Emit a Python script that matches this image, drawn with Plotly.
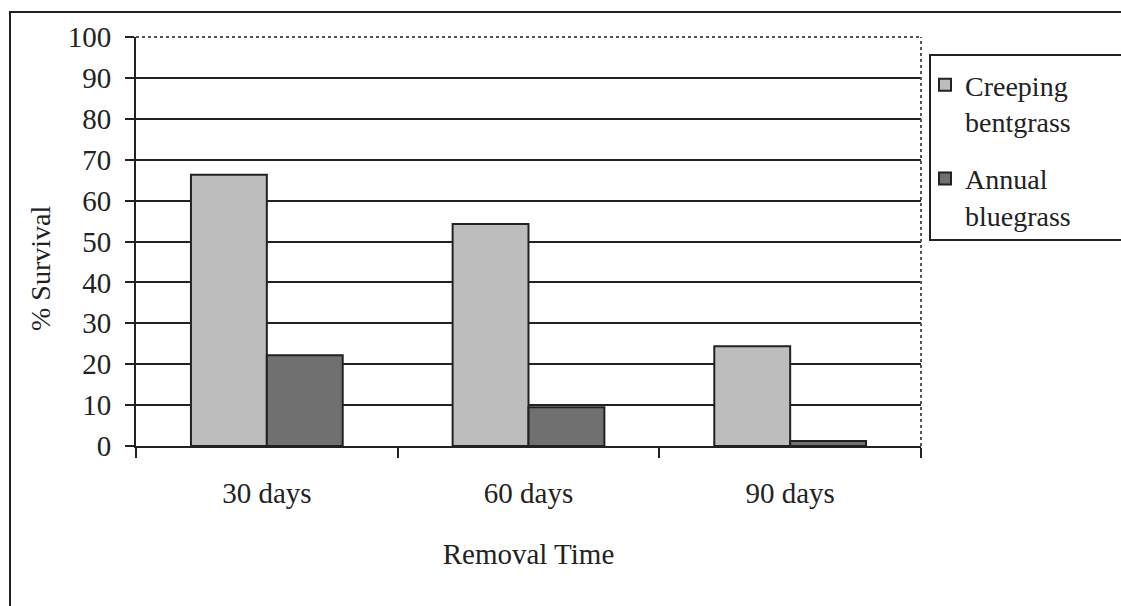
import plotly.graph_objects as go

categories = ["30 days", "60 days", "90 days"]
creeping = [66.3, 54.3, 24.4]
annual = [22.2, 9.5, 1.2]
series_names = ["Creeping<br>bentgrass", "Annual<br>bluegrass"]

L, R, T, B = 136, 200, 37, 160
W, H = 1121, 606
pw, ph = W - L - R, H - T - B

def px_x(x):
    return (x - L) / pw

def px_y(y):
    return (H - B - y) / ph

fig = go.Figure()
fig.add_trace(go.Bar(x=categories, y=creeping, name=series_names[0], legendgroup="a",
                     marker=dict(color="#bdbdbd", line=dict(color="#222", width=2))))
fig.add_trace(go.Bar(x=categories, y=annual, name=series_names[1], legendgroup="b",
                     marker=dict(color="#707070", line=dict(color="#222", width=2))))

fam = "Liberation Serif, Times New Roman, serif"
font = dict(family=fam, size=29, color="#222")

fig.update_layout(
    width=W, height=H,
    margin=dict(l=L, r=R, t=T, b=B),
    paper_bgcolor="white", plot_bgcolor="white",
    font=font,
    barmode="group", bargap=0.42, bargroupgap=0,
    showlegend=True,
    legend=dict(x=px_x(925), y=px_y(60), xanchor="left", yanchor="top",
                bgcolor="rgba(0,0,0,0)", borderwidth=0,
                font=dict(family=fam, size=28), valign="top",
                traceorder="grouped", tracegroupgap=18, itemwidth=30),
    xaxis=dict(showline=True, linecolor="#222", linewidth=2,
               ticks="outside", tickson="boundaries", ticklen=10, tickwidth=2,
               tickcolor="#222", showgrid=False,
               tickfont=dict(family=fam, size=29), ticklabelstandoff=20,
               title=dict(text="Removal Time", standoff=36,
                          font=dict(family=fam, size=29))),
    yaxis=dict(range=[0, 100], dtick=10, showline=True, linecolor="#222", linewidth=2,
               ticks="outside", ticklen=9, tickwidth=2, tickcolor="#222",
               showgrid=True, gridcolor="#222", gridwidth=2, zeroline=False,
               tickfont=dict(family=fam, size=29), ticklabelstandoff=8),
    annotations=[
        dict(text="% Survival", xref="paper", yref="paper", x=px_x(40), y=px_y(269),
             xanchor="center", yanchor="middle", textangle=-90, showarrow=False,
             font=dict(family=fam, size=28, color="#222")),
    ],
    shapes=[
        dict(type="line", xref="paper", yref="paper", x0=0, x1=1, y0=1, y1=1,
             line=dict(color="#555", width=2, dash="dot")),
        dict(type="line", xref="paper", yref="paper", x0=1, x1=1, y0=0, y1=1,
             line=dict(color="#555", width=2, dash="dot")),
        dict(type="rect", xref="paper", yref="paper", x0=px_x(10), x1=px_x(1130),
             y0=px_y(620), y1=px_y(12), line=dict(color="#222", width=2)),
        dict(type="rect", xref="paper", yref="paper", x0=px_x(930), x1=px_x(1130),
             y0=px_y(240), y1=px_y(55), line=dict(color="#222", width=2)),
    ],
)

fig.write_html("out.html")
